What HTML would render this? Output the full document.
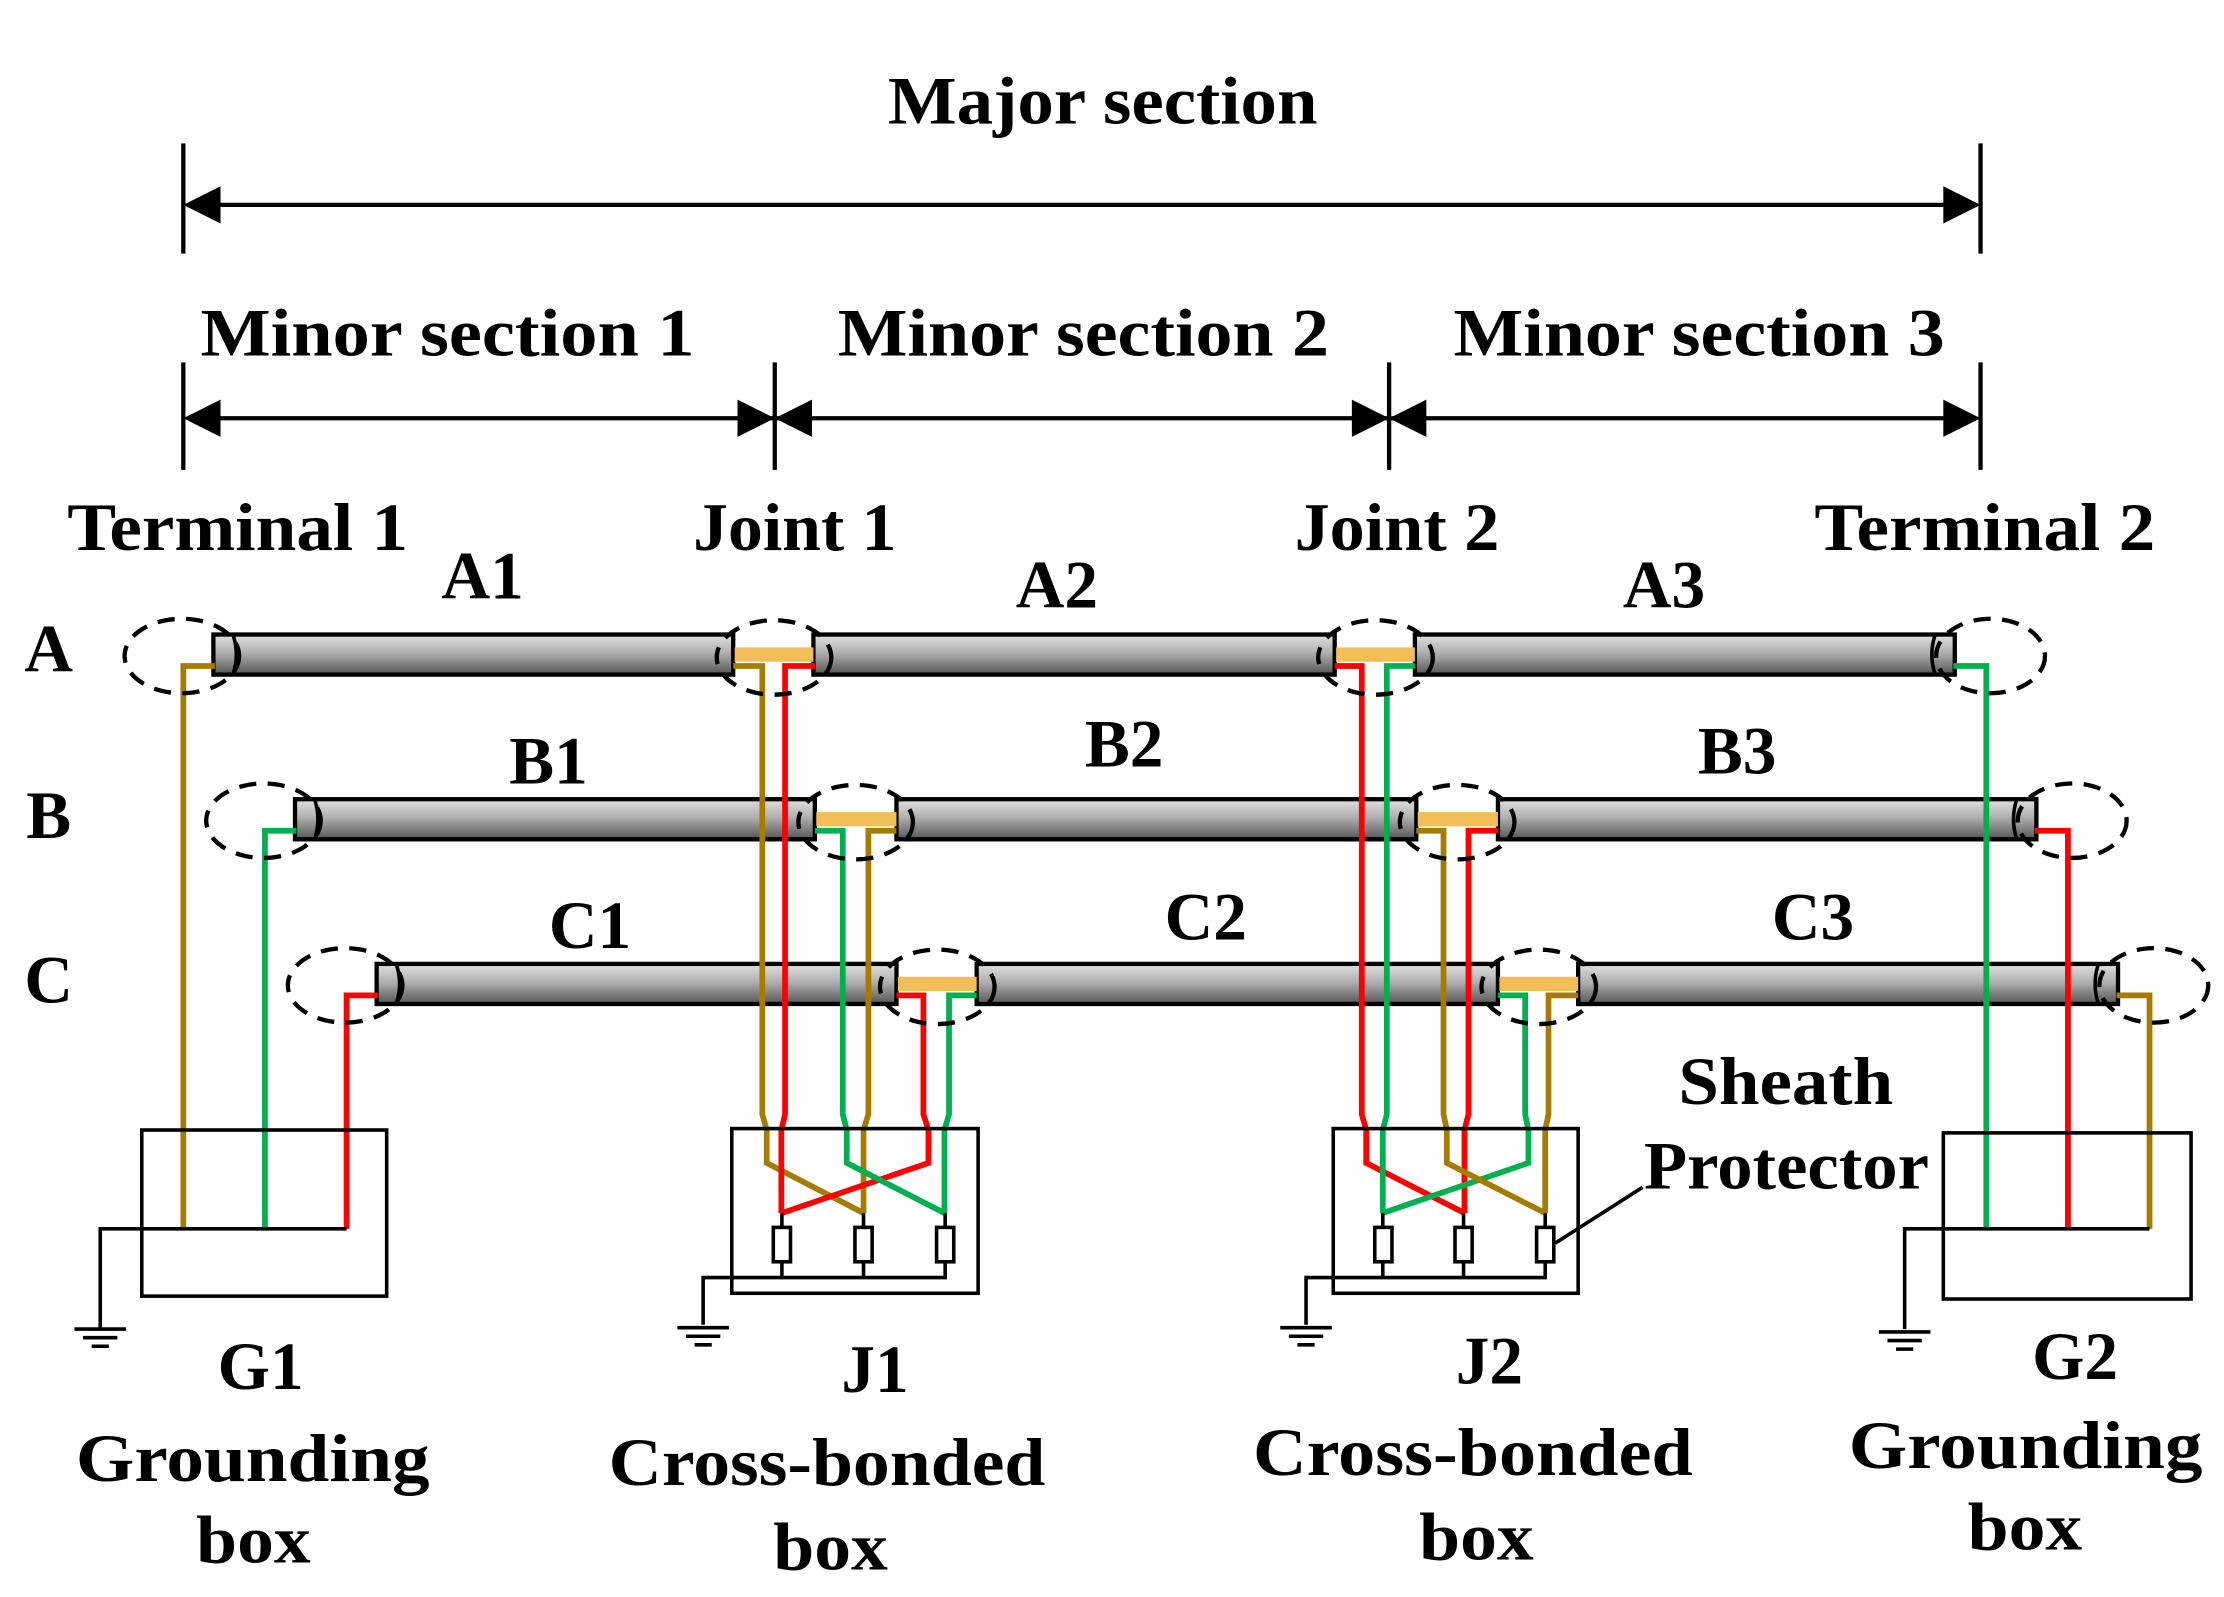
<!DOCTYPE html>
<html><head><meta charset="utf-8"><style>
html,body{margin:0;padding:0;background:#fff;}
svg{display:block;}
text{font-family:"Liberation Serif",serif;font-weight:bold;fill:#000;}
</style></head><body>
<svg width="2224" height="1597" viewBox="0 0 1553 1115" xmlns="http://www.w3.org/2000/svg">
<defs>
<linearGradient id="cg" x1="0" y1="0" x2="0" y2="1">
<stop offset="0" stop-color="#e0e0e0"/><stop offset="0.45" stop-color="#b0b0b0"/><stop offset="1" stop-color="#555"/>
</linearGradient>
</defs>
<rect width="1553" height="1115" fill="#fff"/>

<g stroke="#000" stroke-width="3" fill="none">
<line x1="128" y1="100" x2="128" y2="177"/><line x1="1383" y1="100" x2="1383" y2="177"/>
<line x1="150" y1="143" x2="1360" y2="143"/>
<line x1="128" y1="253" x2="128" y2="328"/><line x1="541" y1="253" x2="541" y2="328"/>
<line x1="970" y1="253" x2="970" y2="328"/><line x1="1383" y1="253" x2="1383" y2="328"/>
<line x1="150" y1="292" x2="1360" y2="292"/>
</g>
<g fill="#000">
<polygon points="128,143 154,130 154,156"/><polygon points="1383,143 1357,130 1357,156"/>
<polygon points="128,292 154,279 154,305"/>
<polygon points="541,292 515,279 515,305"/><polygon points="541,292 567,279 567,305"/>
<polygon points="970,292 944,279 944,305"/><polygon points="970,292 996,279 996,305"/>
<polygon points="1383,292 1357,279 1357,305"/>
</g>
<g font-size="47" lengthAdjust="spacingAndGlyphs">
<text x="620" y="86" textLength="300" lengthAdjust="spacingAndGlyphs">Major section</text>
<text x="140" y="248" textLength="345" lengthAdjust="spacingAndGlyphs">Minor section 1</text>
<text x="585" y="248" textLength="343" lengthAdjust="spacingAndGlyphs">Minor section 2</text>
<text x="1015" y="248" textLength="343" lengthAdjust="spacingAndGlyphs">Minor section 3</text>
<text x="47" y="384" textLength="238" lengthAdjust="spacingAndGlyphs">Terminal 1</text>
<text x="484" y="384" textLength="142" lengthAdjust="spacingAndGlyphs">Joint 1</text>
<text x="904" y="384" textLength="143" lengthAdjust="spacingAndGlyphs">Joint 2</text>
<text x="1267" y="384" textLength="238" lengthAdjust="spacingAndGlyphs">Terminal 2</text>
<text x="53" y="1034" textLength="247" lengthAdjust="spacingAndGlyphs">Grounding</text>
<text x="137" y="1091" textLength="80" lengthAdjust="spacingAndGlyphs">box</text>
<text x="425" y="1037" textLength="305" lengthAdjust="spacingAndGlyphs">Cross-bonded</text>
<text x="540" y="1096" textLength="80" lengthAdjust="spacingAndGlyphs">box</text>
<text x="875" y="1030" textLength="307" lengthAdjust="spacingAndGlyphs">Cross-bonded</text>
<text x="991" y="1089" textLength="80" lengthAdjust="spacingAndGlyphs">box</text>
<text x="1291" y="1025" textLength="247" lengthAdjust="spacingAndGlyphs">Grounding</text>
<text x="1374" y="1082" textLength="80" lengthAdjust="spacingAndGlyphs">box</text>
<text x="1172" y="771" textLength="150" lengthAdjust="spacingAndGlyphs">Sheath</text>
<text x="1148" y="830" textLength="199" lengthAdjust="spacingAndGlyphs">Protector</text>
</g>
<g font-size="47" text-anchor="middle">
<text x="337" y="418">A1</text><text x="738" y="424">A2</text><text x="1162" y="424">A3</text>
<text x="383" y="547">B1</text><text x="785" y="535">B2</text><text x="1213" y="540">B3</text>
<text x="412" y="662">C1</text><text x="842" y="656">C2</text><text x="1266" y="656">C3</text>
<text x="34" y="469">A</text><text x="34" y="585">B</text><text x="34" y="700">C</text>
<text x="182" y="970">G1</text><text x="611" y="972">J1</text>
<text x="1040" y="966">J2</text><text x="1449" y="963">G2</text>
</g>

<g stroke="#000" stroke-width="3" fill="url(#cg)">
<rect x="149" y="443" width="363" height="28"/><rect x="568" y="443" width="364" height="28"/><rect x="988" y="443" width="377" height="28"/>
<rect x="206" y="558" width="363" height="28"/><rect x="626" y="558" width="363" height="28"/><rect x="1046" y="558" width="376" height="28"/>
<rect x="263" y="673" width="363" height="28"/><rect x="682" y="673" width="364" height="28"/><rect x="1102" y="673" width="377" height="28"/>
</g>
<g stroke="#000" stroke-width="2.5" fill="none">
<path d="M163,444 q4,13 0,26"/><path d="M220,559 q4,13 0,26"/><path d="M277,674 q4,13 0,26"/>
<path d="M1351,444 q-4,13 0,26"/><path d="M1408,559 q-4,13 0,26"/><path d="M1465,674 q-4,13 0,26"/>
</g>
<g fill="#F2BE58">
<rect x="513" y="452" width="55" height="10"/><rect x="570" y="567" width="56" height="10"/><rect x="627" y="682" width="55" height="10"/>
<rect x="933" y="452" width="55" height="10"/><rect x="990" y="567" width="56" height="10"/><rect x="1047" y="682" width="55" height="10"/>
</g>

<g fill="none" stroke-width="4" stroke-linejoin="miter">
<path d="M150,465 H128 V858" stroke="#A67C00"/>
<path d="M207,580 H185 V858" stroke="#00B050"/>
<path d="M264,695 H242 V858" stroke="#FF0000"/>
<path d="M1364,465 H1387 V858" stroke="#00B050"/>
<path d="M1421,580 H1444 V858" stroke="#FF0000"/>
<path d="M1478,695 H1501 V858" stroke="#A67C00"/>
<path d="M512,465 H532.3 V778 L535.4,789 V812 L603,847" stroke="#A67C00"/>
<path d="M626,580 H606.4 V778 L603,789 V847" stroke="#A67C00"/>
<path d="M569,465 H548.2 V778 L545.6,789 V847" stroke="#FF0000"/>
<path d="M626,695 H644.8 V778 L648.3,789 V812 L546,847" stroke="#FF0000"/>
<path d="M569,580 H588.5 V778 L591.3,789 V812 L659.5,847" stroke="#00B050"/>
<path d="M682,695 H662.7 V778 L659.5,789 V847" stroke="#00B050"/>
<path d="M932,465 H950.9 V778 L954,789 V812 L1022.6,847" stroke="#FF0000"/>
<path d="M1046,580 H1025.4 V778 L1022.6,789 V847" stroke="#FF0000"/>
<path d="M988,465 H968.4 V778 L965.6,789 V847" stroke="#00B050"/>
<path d="M1046,695 H1065 V778 L1067.3,789 V812 L965.6,847" stroke="#00B050"/>
<path d="M989,580 H1008 V778 L1010.3,789 V812 L1079,847" stroke="#A67C00"/>
<path d="M1102,695 H1081.3 V778 L1079,789 V847" stroke="#A67C00"/>
</g>

<g fill="none" stroke="#000" stroke-width="3" stroke-dasharray="12 8">
<ellipse cx="127" cy="458" rx="40" ry="26"/><ellipse cx="184" cy="573" rx="40" ry="26"/><ellipse cx="241" cy="688" rx="40" ry="26"/>
<ellipse cx="540.5" cy="459" rx="40" ry="26"/><ellipse cx="597.5" cy="574" rx="40" ry="26"/><ellipse cx="654.5" cy="689" rx="40" ry="26"/>
<ellipse cx="960.5" cy="459" rx="40" ry="26"/><ellipse cx="1017.5" cy="574" rx="40" ry="26"/><ellipse cx="1074.5" cy="689" rx="40" ry="26"/>
<ellipse cx="1390" cy="458" rx="38" ry="26"/><ellipse cx="1447" cy="573" rx="38" ry="26"/><ellipse cx="1504" cy="688" rx="38" ry="26"/>
</g>

<g fill="none" stroke="#000" stroke-width="2.5">
<rect x="99" y="789" width="171" height="116"/>
<rect x="511" y="788" width="172" height="115"/>
<rect x="931" y="788" width="171" height="115"/>
<rect x="1357" y="791" width="173" height="116"/>
<path d="M242,858 H70 V928"/>
<path d="M1501,858 H1330 V928"/>
<path d="M660,847 V892 H491 V925"/>
<path d="M603,847 V892"/><path d="M546,847 V892"/>
<path d="M1079,847 V892 H912 V925"/>
<path d="M1022,847 V892"/><path d="M965.6,847 V892"/>
<path d="M1086,868 L1147,829"/>
</g>
<g fill="#fff" stroke="#000" stroke-width="2.5">
<rect x="540" y="857" width="12" height="24"/><rect x="597" y="857" width="12" height="24"/><rect x="654" y="857" width="12" height="24"/>
<rect x="960" y="857" width="12" height="24"/><rect x="1016" y="857" width="12" height="24"/><rect x="1073" y="857" width="12" height="24"/>
</g>
<g stroke="#000" stroke-width="2.5">
<line x1="52" y1="928" x2="88" y2="928"/><line x1="58" y1="934" x2="82" y2="934"/><line x1="64" y1="940" x2="76" y2="940"/>
<line x1="473" y1="927" x2="509" y2="927"/><line x1="479" y1="933" x2="503" y2="933"/><line x1="485" y1="939" x2="497" y2="939"/>
<line x1="894" y1="927" x2="930" y2="927"/><line x1="900" y1="933" x2="924" y2="933"/><line x1="906" y1="939" x2="918" y2="939"/>
<line x1="1312" y1="930" x2="1348" y2="930"/><line x1="1318" y1="936" x2="1342" y2="936"/><line x1="1324" y1="942" x2="1336" y2="942"/>
</g>
</svg>
</body></html>
